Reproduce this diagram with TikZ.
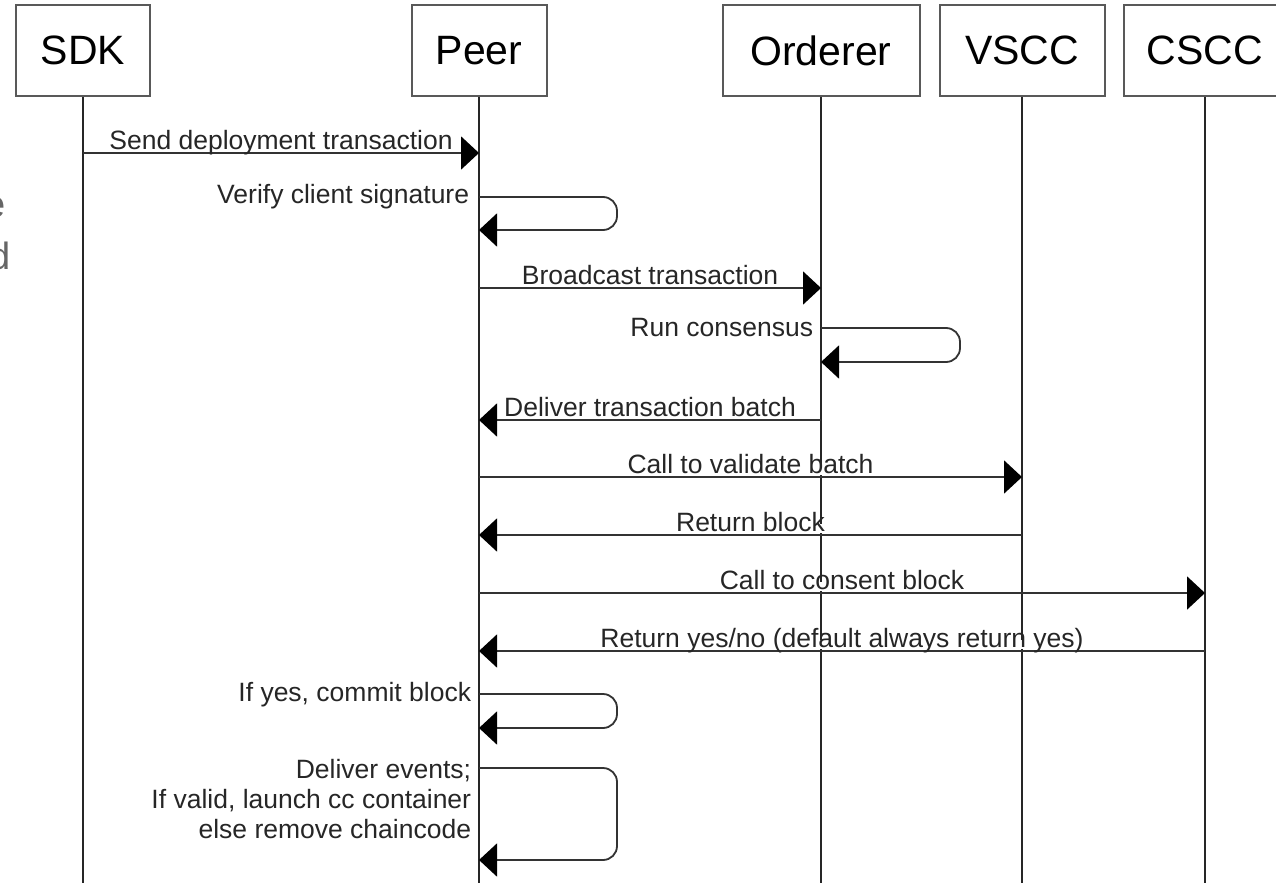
\documentclass[tikz,border=0pt]{standalone}
\usepackage{fontspec}
\setmainfont{Liberation Sans}
\usetikzlibrary{arrows.meta,positioning}

\begin{document}
\begin{tikzpicture}[
        x=1pt, y=-1pt,
        actor/.style={rectangle, draw=black!65, line width=2pt, fill=white, minimum height=91pt, inner sep=0pt, font=\fontsize{41}{48}\selectfont},
        lifeline/.style={draw=black!85, line width=1.8pt},
        msg/.style={draw=black!80, line width=1.8pt, -{Triangle[length=18pt, width=33pt, color=black, fill=black]}},
        selfmsg/.style={msg, rounded corners=14pt},
        lbl/.style={fill=white, inner xsep=1pt, inner ysep=0pt, text=black!85, font=\fontsize{26.5}{30}\selectfont, text height=0.72em, text depth=0.16em},
        note/.style={inner sep=1pt, text=black!85, font=\fontsize{26.5}{30}\selectfont, align=right},
        ghost/.style={inner sep=0pt, text=black!60, font=\fontsize{38}{52}\selectfont}
    ]
    \useasboundingbox (0,0) rectangle (1276,883);
    % participants
    \node [actor, minimum width=134pt] (sdk) at (83,50.5) {SDK};
    \node [actor, minimum width=135pt] (peer) at (479,50.5) {Peer};
    \node [actor, minimum width=197pt] (orderer) at (821,50.5) {Orderer};
    \node [actor, minimum width=165pt] (vscc) at (1022,50.5) {VSCC};
    \node [actor, minimum width=162pt] (cscc) at (1205,50.5) {CSCC};
    % cut-off text at the left edge
    \node [ghost, anchor=base east] (ghost_e) at (5.5,217) {e};
    \node [ghost, anchor=base east] (ghost_d) at (10.5,269) {d};
    % message rows
    \coordinate (bottom) at (0,883);
    \foreach \r/\y in {m1/153, m2/197, m2e/230, m3/288, m4/328, m4e/362, m5/420, m6/477, m7/535,
                       m8/593, m9/651, m10/694, m10e/728, m11/768, m11e/860}
        \coordinate (\r) at (0,\y);
    % lifelines
    \foreach \a in {sdk,peer,orderer,vscc,cscc}
        \draw [lifeline] (\a) -- (\a |- bottom);
    % messages
    \draw [msg] (sdk |- m1) -- node[lbl, above=1.5pt] {Send deployment transaction} (peer |- m1);
    \draw [selfmsg] (peer |- m2) node[note, anchor=base east, xshift=-8pt, yshift=-6pt] {Verify client signature}
        -- ++(138,0) |- (peer |- m2e);
    \draw [msg] (peer |- m3) -- node[lbl, above=1.5pt] {Broadcast transaction} (orderer |- m3);
    \draw [selfmsg] (orderer |- m4) node[note, anchor=base east, xshift=-6pt, yshift=-8pt] {Run consensus}
        -- ++(139,0) |- (orderer |- m4e);
    \draw [msg] (orderer |- m5) -- node[lbl, above=1.5pt] {Deliver transaction batch} (peer |- m5);
    \draw [msg] (peer |- m6) -- node[lbl, above=1.5pt] {Call to validate batch} (vscc |- m6);
    \draw [msg] (vscc |- m7) -- node[lbl, above=1.5pt] {Return block} (peer |- m7);
    \draw [msg] (peer |- m8) -- node[lbl, above=1.5pt] {Call to consent block} (cscc |- m8);
    \draw [msg] (cscc |- m9) -- node[lbl, above=1.5pt] {Return yes/no (default always return yes)} (peer |- m9);
    \draw [selfmsg] (peer |- m10) node[note, anchor=base east, xshift=-6pt, yshift=-7pt] {If yes, commit block}
        -- ++(138,0) |- (peer |- m10e);
    \draw [selfmsg] (peer |- m11) node[note, anchor=north east, xshift=-6pt, yshift=11pt] {Deliver events;\\If valid, launch cc container\\else remove chaincode}
        -- ++(138,0) |- (peer |- m11e);
\end{tikzpicture}
\end{document}
